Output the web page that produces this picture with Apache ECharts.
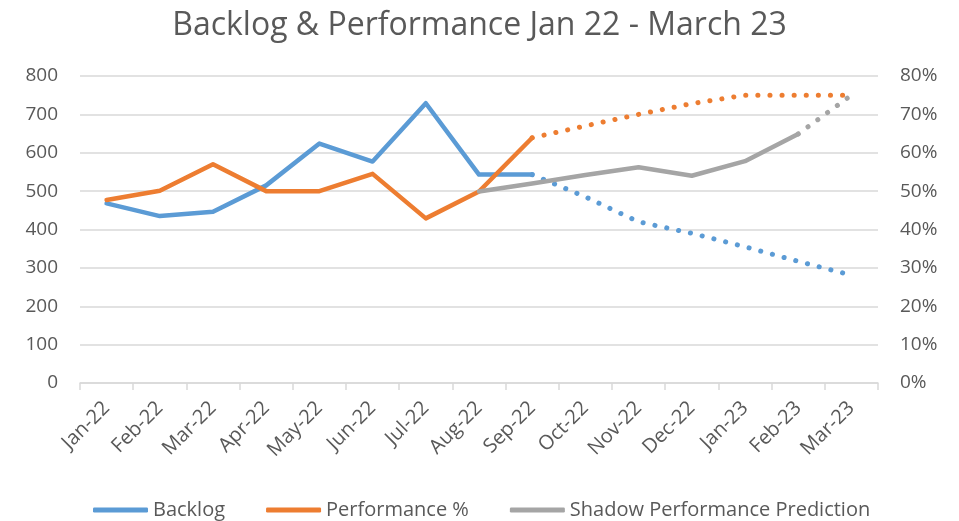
<!DOCTYPE html>
<html>
<head>
<meta charset="utf-8">
<script src="https://cdn.jsdelivr.net/npm/echarts@6/dist/echarts.min.js"></script>
<style>html,body{margin:0;padding:0;background:#fff}#c{width:959px;height:521px}</style>
</head>
<body>
<div id="c"></div>
<script>
const categories = ['Jan-22','Feb-22','Mar-22','Apr-22','May-22','Jun-22','Jul-22','Aug-22','Sep-22','Oct-22','Nov-22','Dec-22','Jan-23','Feb-23','Mar-23'];
const backlog = [468, 435, 446, 515, 624, 577, 729, 543, 543, null, null, null, null, null, null];
const backlogForecast = [null, null, null, null, null, null, null, null, 543, 485, 420, 390, 355, 317, 281];
const performance = [47.7, 50.1, 57.0, 50.0, 50.0, 54.5, 42.9, 49.9, 63.9, null, null, null, null, null, null];
const performanceForecast = [null, null, null, null, null, null, null, null, 63.9, 67.0, 70.0, 72.8, 75.0, 75.0, 75.0];
const shadow = [null, null, null, null, null, null, null, 49.9, 52.0, 54.2, 56.2, 54.0, 57.8, 64.9, null];
const shadowForecast = [null, null, null, null, null, null, null, null, null, null, null, null, null, 64.9, 75.0];
const leftTicks = {min: 0, max: 800, interval: 100};
const rightTicks = {min: 0, max: 80, interval: 10};

const BLUE = '#5B9BD5', ORANGE = '#ED7D31', GRAY = '#A5A5A5';
const TXT = '#595959';
const FONT = 'Open Sans';
const dots = {type: [0.1, 12], cap: 'round', width: 5};

function solid(name, data, color, yIdx) {
  return {name, type: 'line', data, yAxisIndex: yIdx, symbol: 'none', connectNulls: false,
    lineStyle: {color, width: 4.5, cap: 'round', join: 'round'}, itemStyle: {color}, z: 3};
}
function dotted(name, data, color, yIdx) {
  return {name, type: 'line', data, yAxisIndex: yIdx, symbol: 'none',
    lineStyle: Object.assign({color}, dots), itemStyle: {color}, z: 2};
}

const chart = echarts.init(document.getElementById('c'), null, {renderer: 'canvas'});
chart.setOption({
  animation: false,
  backgroundColor: '#fff',
  title: {
    text: 'Backlog & Performance Jan 22 - March 23',
    left: 'center', top: 5,
    textStyle: {fontFamily: FONT, fontSize: 32, fontWeight: 'normal', color: TXT}
  },
  legend: {
    data: ['Backlog', 'Performance %', 'Shadow Performance Prediction'],
    top: 495, left: 88,
    itemWidth: 55, itemHeight: 5, itemGap: 41,
    icon: 'roundRect',
    textStyle: {fontFamily: FONT, fontSize: 20, color: TXT}
  },
  grid: {left: 80, right: 81, top: 76, bottom: 138, containLabel: false},
  xAxis: {
    type: 'category', data: categories, boundaryGap: true,
    axisLine: {lineStyle: {color: '#D9D9D9', width: 1.5}},
    axisTick: {show: true, length: 7, lineStyle: {color: '#D9D9D9', width: 1.5}},
    axisLabel: {rotate: 45, interval: 0, margin: 22, fontFamily: FONT, fontSize: 20, color: TXT}
  },
  yAxis: [
    {type: 'value', min: leftTicks.min, max: leftTicks.max, interval: leftTicks.interval,
     axisLine: {show: false}, axisTick: {show: false},
     splitLine: {lineStyle: {color: '#D9D9D9', width: 1.5}},
     axisLabel: {margin: 22, fontFamily: FONT, fontSize: 19, color: TXT}},
    {type: 'value', min: rightTicks.min, max: rightTicks.max, interval: rightTicks.interval,
     axisLine: {show: false}, axisTick: {show: false}, splitLine: {show: false},
     axisLabel: {margin: 22, formatter: '{value}%', fontFamily: FONT, fontSize: 19, color: TXT}}
  ],
  series: [
    solid('Backlog', backlog, BLUE, 0),
    dotted('Backlog forecast', backlogForecast, BLUE, 0),
    solid('Performance %', performance, ORANGE, 1),
    dotted('Performance forecast', performanceForecast, ORANGE, 1),
    solid('Shadow Performance Prediction', shadow, GRAY, 1),
    dotted('Shadow forecast', shadowForecast, GRAY, 1)
  ]
});
</script>
</body>
</html>
